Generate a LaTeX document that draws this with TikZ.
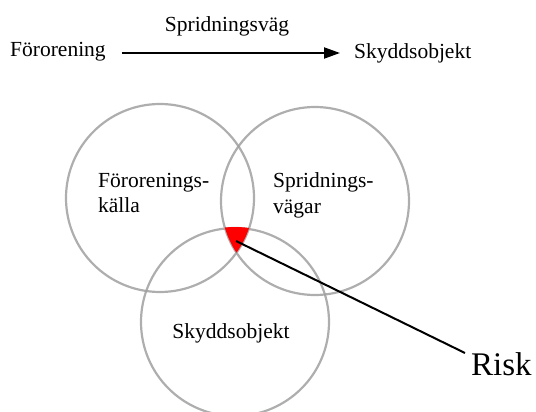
\documentclass[tikz,border=0pt]{standalone}
\usepackage{fontspec}
\setmainfont{Liberation Serif}
\usetikzlibrary{arrows.meta}
\definecolor{ringgray}{RGB}{160,160,160}
\tikzset{
  ring/.style={draw=ringgray, line width=2.2pt, draw opacity=0.85, circle, minimum size=188pt, inner sep=0pt},
  lbl/.style={inner sep=0pt, font=\fontsize{21.5}{25}\selectfont},
  biglbl/.style={inner sep=0pt, font=\fontsize{33}{36}\selectfont},
  conn/.style={line width=2pt, black}
}
\begin{document}
\begin{tikzpicture}[x=1pt,y=-1pt]
\useasboundingbox (0,0) rectangle (536,412);
% top row
\node[lbl, anchor=base west] (fo) at (10,57) {Förorening};
\node[lbl, anchor=base] (sv) at (227,32) {Spridningsväg};
\node[lbl, anchor=base west] (so) at (354,59) {Skyddsobjekt};
\draw[conn, -{Triangle[length=16pt,width=11pt]}] ([shift={(16,-4)}]fo.base east) -- ([shift={(-14,-6)}]so.base west);
% circles
\node[ring] (cl) at (160,198) {};
\node[ring] (cr) at (315,201) {};
\node[ring] (cb) at (235,322) {};
% red intersection
\begin{scope}
  \clip (160,198) circle[radius=94pt];
  \clip (315,201) circle[radius=94pt];
  \fill[red] (235,322) circle[radius=95pt];
\end{scope}
% labels in circles
\node[lbl, anchor=base west] (l1) at (98,187) {Förorenings-};
\node[lbl, anchor=base west] (l2) at (98,212) {källa};
\node[lbl, anchor=base west] (r1) at (273,187) {Spridnings-};
\node[lbl, anchor=base west] (r2) at (273,213) {vägar};
\node[lbl, anchor=base] (b1) at (231,338) {Skyddsobjekt};
% risk
\node[biglbl, anchor=base west] (risk) at (471,375) {Risk};
\coordinate (riskpt) at (236,241);
\coordinate (riskend) at (465,353);
\draw[conn] (riskpt) -- (riskend);
\end{tikzpicture}
\end{document}
